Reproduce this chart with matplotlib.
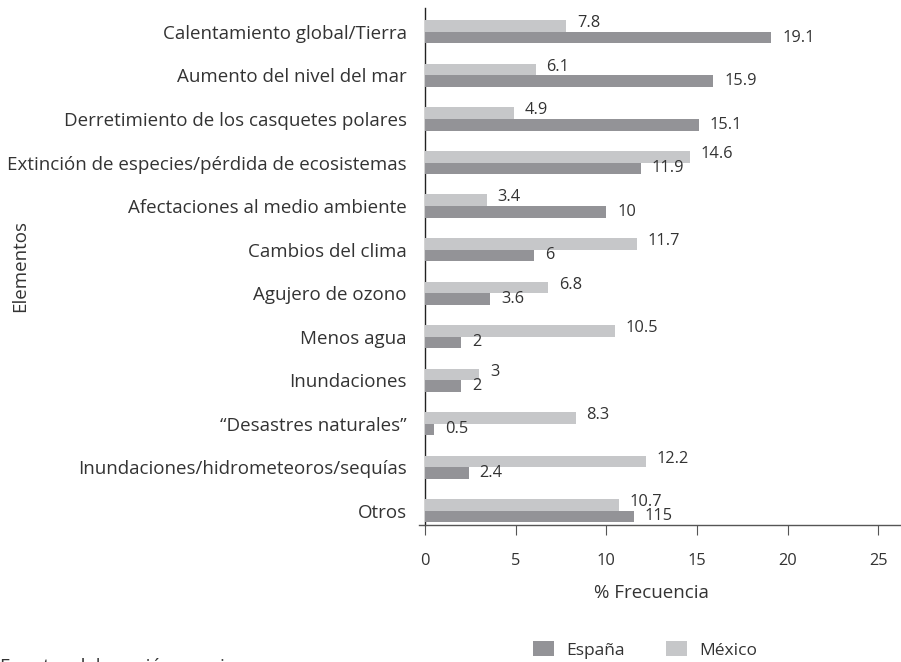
import matplotlib
matplotlib.use('Agg')
import matplotlib.pyplot as plt
import numpy as np
from matplotlib.patches import Patch

# Colours
COLOR_ESP = '#939397'
COLOR_MEX = '#c6c7c9'
TEXT_COLOR = '#333333'
AXIS_COLOR = '#555555'
FS_CAT = 13.5
FS_VAL = 11.8
FS_LAB = 13.5

categories = [
    'Calentamiento global/Tierra',
    'Aumento del nivel del mar',
    'Derretimiento de los casquetes polares',
    'Extinción de especies/pérdida de ecosistemas',
    'Afectaciones al medio ambiente',
    'Cambios del clima',
    'Agujero de ozono',
    'Menos agua',
    'Inundaciones',
    '\u201cDesastres naturales\u201d',
    'Inundaciones/hidrometeoros/sequías',
    'Otros',
]
mexico = [7.8, 6.1, 4.9, 14.6, 3.4, 11.7, 6.8, 10.5, 3, 8.3, 12.2, 10.7]
espana = [19.1, 15.9, 15.1, 11.9, 10, 6, 3.6, 2, 2, 0.5, 2.4, 11.5]
mexico_labels = ['7.8', '6.1', '4.9', '14.6', '3.4', '11.7', '6.8', '10.5', '3', '8.3', '12.2', '10.7']
espana_labels = ['19.1', '15.9', '15.1', '11.9', '10', '6', '3.6', '2', '2', '0.5', '2.4', '115']
xticks = [0, 5, 10, 15, 20, 25]

plt.rcParams['font.family'] = ['Open Sans', 'DejaVu Sans']
plt.rcParams['text.color'] = TEXT_COLOR

fig = plt.figure(figsize=(9.01, 6.62), dpi=100)
ax = fig.add_axes([0.4647, 0.2069, 0.5342, 0.781])

y_pos = np.arange(len(categories))
h = 0.265
bars_mex = ax.barh(y_pos - h / 2, mexico, height=h, color=COLOR_MEX, zorder=3)
bars_esp = ax.barh(y_pos + h / 2, espana, height=h, color=COLOR_ESP, zorder=3)

# Value labels
for bar, lab in zip(bars_mex, mexico_labels):
    ax.annotate(lab, (bar.get_width(), bar.get_y() + bar.get_height() / 2),
                xytext=(7.5, 2), textcoords='offset points',
                va='center', ha='left', fontsize=FS_VAL, color=TEXT_COLOR)
for bar, lab in zip(bars_esp, espana_labels):
    ax.annotate(lab, (bar.get_width(), bar.get_y() + bar.get_height() / 2),
                xytext=(8, 0), textcoords='offset points',
                va='center', ha='left', fontsize=FS_VAL, color=TEXT_COLOR)

ax.set_xlim(-0.35, 26.2)
ax.set_ylim(11.33, -0.55)
ax.set_yticks(y_pos)
ax.set_yticklabels(categories)
ax.set_xticks(xticks)
ax.set_xticklabels([str(t) for t in xticks])

for spine in ['top', 'right']:
    ax.spines[spine].set_visible(False)
ax.spines['left'].set_position(('data', 0))
ax.spines['left'].set_color('#222222')
ax.spines['bottom'].set_color(AXIS_COLOR)
ax.spines['left'].set_linewidth(1.0)
ax.spines['bottom'].set_linewidth(1.0)

ax.tick_params(axis='y', left=False, pad=9.5, labelsize=FS_CAT, labelcolor=TEXT_COLOR)
ax.tick_params(axis='x', direction='out', length=7, color=AXIS_COLOR, pad=13,
               labelsize=FS_VAL, labelcolor=TEXT_COLOR)

ax.set_xlabel('% Frecuencia', fontsize=FS_LAB, color=TEXT_COLOR)
ax.xaxis.set_label_coords((12.5 + 0.35) / 26.55, -0.115)

fig.text(0.022, 1 - 266 / 662, 'Elementos', rotation=90, va='center', ha='center',
         fontsize=FS_LAB, color=TEXT_COLOR)

handles = [Patch(facecolor=COLOR_ESP, edgecolor='none'),
           Patch(facecolor=COLOR_MEX, edgecolor='none')]
fig.legend(handles, ['España', 'México'], ncol=2, frameon=False, loc='center',
           bbox_to_anchor=(0.716, 1 - 650 / 662), fontsize=12.5,
           handlelength=1.2, handleheight=0.9, columnspacing=2.4, handletextpad=0.7)

# source note, cut by the bottom edge as in the original
fig.text(0.0, 1 - 658 / 662, 'Fuente: elaboración propia', va='top', ha='left',
         fontsize=FS_LAB, color=TEXT_COLOR)

plt.savefig('out.png', dpi=100)
plt.close()
